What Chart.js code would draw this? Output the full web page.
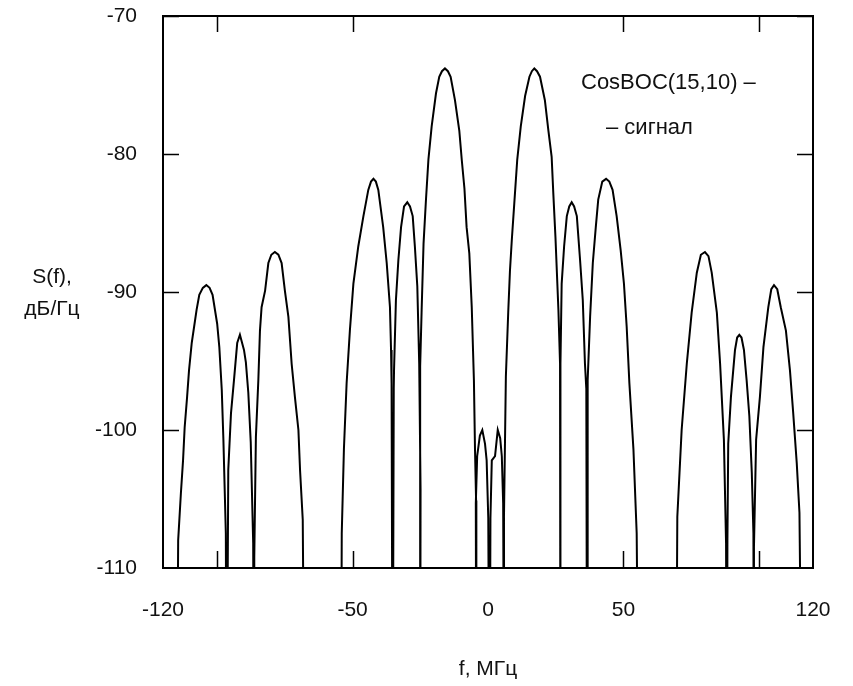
<!DOCTYPE html>
<html>
<head>
<meta charset="utf-8">
<script src="https://cdn.jsdelivr.net/npm/chart.js@4"></script>
<style>
  html, body { margin: 0; padding: 0; background: #fff; }
  #wrap { width: 853px; height: 686px; }
</style>
</head>
<body>
<div id="wrap"><canvas id="chart" width="853" height="686"></canvas></div>
<script>
// CosBOC(15,10) spectrum.
// Points at -125 dB are the nulls between lobes (below the plot floor).
const freqMHz = [
  -114.9, -114.4, -113.4, -112.6, -112.0, -111.1, -110.4, -109.4, -108.5, -107.6, -106.6, -105.3, -104.0, -102.8, -101.7, -100.0, -99.2, -98.3, -97.7, -96.8, -96.5,
  -95.9, -94.9, -93.8, -92.6, -91.6, -90.1, -89.4, -88.5, -87.6, -86.7, -86.4,
  -86.3, -85.7, -84.8, -84.2, -83.6, -82.3, -81.1, -80.0, -78.7, -77.4, -76.2, -75.0, -73.7, -72.5, -71.3, -70.0, -69.4, -68.4, -67.7,
  -54.3, -54.0, -53.2, -52.2, -51.0, -49.7, -47.9, -46.0, -44.2, -43.2, -42.3, -41.4, -40.5, -38.7, -37.4, -36.2, -35.8, -35.6, -35.2,
  -34.8, -34.7, -34.0, -33.1, -32.1, -31.0, -29.8, -28.8, -27.8, -27.0, -26.1, -25.4, -24.9, -25.0,
  -25.1, -24.5, -23.8, -22.9, -22.0, -20.8, -19.2, -18.0, -17.0, -15.9, -14.8, -13.8, -12.2, -10.6, -9.7, -8.7, -7.9, -6.9, -6.0, -5.2, -4.8, -4.4, -4.3,
  -4.5, -4.0, -3.0, -2.1, -1.1, -0.5, 0.1, 0.6,
  0.9, 1.4, 2.6, 3.6, 4.5, 5.1, 5.6, 6.0,
  5.9, 6.6, 7.5, 8.1, 8.8, 9.7, 10.8, 12.1, 13.7, 15.3, 16.2, 17.1, 18.1, 19.2, 21.0, 22.3, 23.5, 24.1, 24.9, 26.0, 26.6, 26.9,
  26.6, 27.2, 28.1, 29.1, 30.0, 30.9, 31.8, 32.8, 34.0, 35.0, 35.8, 36.3, 36.6,
  36.8, 37.7, 38.7, 39.8, 40.7, 42.2, 43.6, 44.8, 46.0, 47.5, 49.0, 50.2, 51.2, 52.2, 53.7, 54.9, 55.7,
  69.4, 69.9, 71.5, 73.4, 75.2, 77.1, 78.6, 80.1, 81.4, 82.6, 84.5, 85.7, 87.1, 87.9, 88.2,
  88.4, 88.7, 89.7, 91.2, 92.0, 92.8, 93.6, 94.5, 95.5, 96.5, 97.4, 98.0, 98.2,
  98.2, 99.0, 100.4, 101.7, 103.5, 104.6, 105.6, 106.8, 108.1, 110.0, 111.5, 112.7, 114.0, 115.0, 116.0
];
const levelDb = [
  -125, -108, -104.6, -102.2, -99.8, -97.6, -95.7, -93.7, -92.5, -91.3, -90.2, -89.7, -89.5, -89.7, -90.2, -92.3, -94.0, -97.1, -100.7, -107.5, -125,
  -102.9, -98.8, -96.4, -93.7, -93.1, -94.2, -95.1, -97.3, -100.9, -108.2, -125,
  -109.2, -100.5, -96.4, -92.8, -91.1, -89.9, -87.9, -87.3, -87.1, -87.3, -87.9, -89.9, -91.8, -95.2, -97.6, -100.0, -102.9, -106.5, -125,
  -125, -107.5, -101.4, -96.6, -92.8, -89.4, -86.7, -84.5, -82.6, -82.0, -81.8, -82.0, -82.6, -85.3, -87.9, -91.1, -94.2, -96.6, -125,
  -97.0, -95.7, -90.6, -87.7, -85.3, -83.8, -83.5, -83.8, -84.5, -86.7, -89.6, -95.2, -104.3, -125,
  -95.4, -91.3, -86.5, -83.3, -80.4, -78.0, -75.6, -74.4, -74.0, -73.8, -74.0, -74.4, -76.1, -78.3, -80.4, -82.5, -85.3, -87.2, -91.1, -96.4, -101.4, -105.1, -125,
  -105.3, -101.9, -100.4, -100.0, -101.0, -102.2, -106.4, -125,
  -106.4, -102.2, -101.9, -100.0, -100.6, -101.9, -105.3, -125,
  -106.3, -96.1, -91.3, -88.5, -86.2, -83.6, -80.4, -78.0, -75.8, -74.4, -74.0, -73.8, -74.0, -74.4, -76.1, -78.3, -80.2, -82.8, -86.0, -91.3, -95.2, -125,
  -95.2, -89.4, -86.7, -84.5, -83.8, -83.5, -83.8, -84.5, -87.7, -90.6, -95.2, -97.0, -125,
  -96.4, -91.8, -87.9, -85.3, -83.3, -82.0, -81.8, -82.0, -82.6, -84.5, -87.0, -89.4, -92.5, -96.6, -101.4, -107.5, -125,
  -125, -106.3, -100.0, -95.2, -91.5, -88.6, -87.3, -87.1, -87.4, -88.6, -91.5, -95.2, -100.7, -108.2, -125,
  -108.0, -101.0, -97.6, -94.2, -93.3, -93.1, -93.3, -94.2, -96.4, -99.0, -103.1, -107.5, -125,
  -108.5, -100.7, -97.6, -94.0, -91.1, -89.8, -89.5, -89.8, -91.1, -92.8, -95.7, -98.8, -102.4, -106.0, -125
];

const xTickLabels = [-120, -50, 0, 50, 120];
const xTickMarks = [-100, -50, 50, 100];
const yTickMarks = [-70, -80, -90, -100];
const yTitleLines = ['S(f),', 'дБ/Гц'];
const xTitle = 'f, МГц';
const noteLines = ['CosBOC(15,10) –', '– сигнал'];

const FONT = '"Liberation Sans", Arial, sans-serif';

const framePlugin = {
  id: 'frame',
  afterDraw(chart) {
    const { ctx, chartArea: a, scales } = chart;
    ctx.save();
    ctx.strokeStyle = '#000';
    ctx.lineWidth = 2;
    ctx.strokeRect(a.left, a.top, a.right - a.left, a.bottom - a.top);

    // inward tick marks
    ctx.lineWidth = 1.5;
    ctx.beginPath();
    xTickMarks.forEach(v => {
      const px = Math.round(scales.x.getPixelForValue(v)) + 0.5;
      ctx.moveTo(px, a.bottom); ctx.lineTo(px, a.bottom - 17);
      ctx.moveTo(px, a.top); ctx.lineTo(px, a.top + 16);
    });
    yTickMarks.forEach(v => {
      const py = Math.round(scales.y.getPixelForValue(v)) + 0.5;
      ctx.moveTo(a.left, py); ctx.lineTo(a.left + 16, py);
      ctx.moveTo(a.right, py); ctx.lineTo(a.right - 16, py);
    });
    ctx.stroke();

    ctx.fillStyle = '#111';
    ctx.font = '21px ' + FONT;
    ctx.textAlign = 'center';
    ctx.textBaseline = 'middle';
    ctx.fillText(yTitleLines[0], 52, 277);
    ctx.fillText(yTitleLines[1], 52, 309);

    ctx.font = '22px ' + FONT;
    ctx.textAlign = 'left';
    ctx.fillText(noteLines[0], 581, 83);
    ctx.fillText(noteLines[1], 606, 128);
    ctx.restore();
  }
};

new Chart('chart', {
  type: 'line',
  data: {
    datasets: [{
      data: freqMHz.map((f, i) => ({ x: f, y: levelDb[i] })),
      borderColor: '#000',
      borderWidth: 2,
      pointRadius: 0,
      tension: 0,
      fill: false
    }]
  },
  options: {
    responsive: false,
    animation: false,
    events: [],
    layout: { padding: { top: 16, right: 40, left: 0, bottom: 0 } },
    plugins: { legend: { display: false }, tooltip: { enabled: false } },
    scales: {
      x: {
        type: 'linear',
        min: -120,
        max: 120,
        afterBuildTicks: scale => { scale.ticks = xTickLabels.map(v => ({ value: v })) },
        afterFit: scale => {
          scale.height = 118
          scale.paddingLeft = 0
          scale.paddingRight = 0
        },
        grid: { display: false, drawTicks: false },
        border: { display: false },
        ticks: {
          color: '#111',
          font: { size: 21, family: FONT },
          padding: 30,
          maxRotation: 0,
          autoSkip: false
        },
        title: {
          display: true,
          text: xTitle,
          color: '#111',
          font: { size: 21, family: FONT },
          padding: { top: 0, bottom: 4 }
        }
      },
      y: {
        min: -110,
        max: -70,
        afterFit: scale => {
          scale.width = 163
          scale.paddingTop = 0
          scale.paddingBottom = 0
        },
        grid: { display: false, drawTicks: false },
        border: { display: false },
        ticks: {
          stepSize: 10,
          color: '#111',
          font: { size: 21, family: FONT },
          padding: 26
        }
      }
    }
  },
  plugins: [framePlugin]
});
</script>
</body>
</html>
